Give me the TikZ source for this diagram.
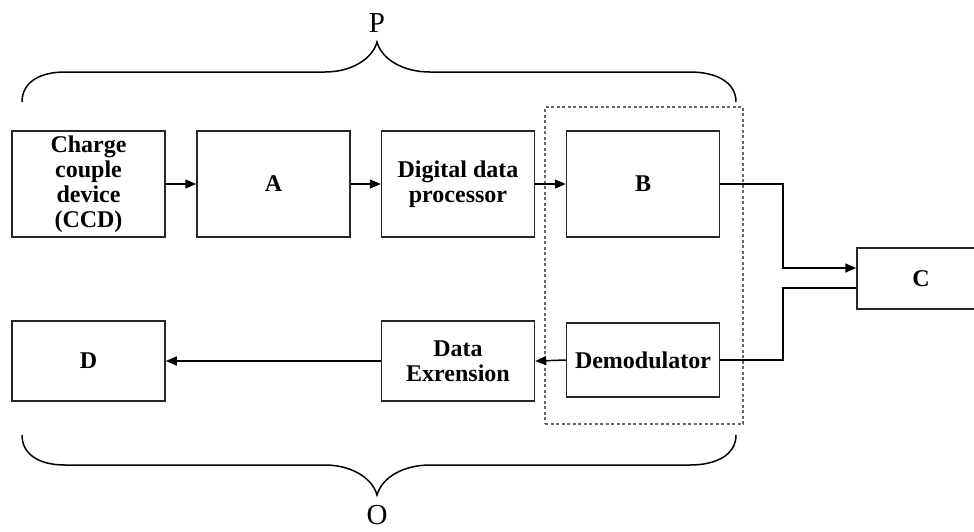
\documentclass[tikz,border=0pt]{standalone}
\usepackage{fontspec}
\setmainfont{Liberation Serif}
\usetikzlibrary{arrows.meta}
\begin{document}
\begin{tikzpicture}[x=1pt,y=-1pt,
  blk/.style={draw=black!85, line width=1.5pt, rectangle, minimum width=153pt, align=center,
    font=\bfseries\fontsize{24}{25}\selectfont, inner sep=0pt},
  tall/.style={blk, minimum height=106pt},
  low/.style={blk, minimum height=80pt},
  conn/.style={draw=black, line width=1.5pt},
  arr/.style={conn, -{Triangle[length=11pt,width=9pt]}},
  grpbox/.style={draw=black!60, line width=1.5pt, dash pattern=on 3pt off 2.5pt, rectangle, inner sep=0pt},
  brace/.style={draw=black, line width=1.5pt},
  lbl/.style={font=\fontsize{29}{30}\selectfont, inner sep=0pt}]
\useasboundingbox (0,0) rectangle (974,531);
\clip (0,0) rectangle (974,531);
% group box
\node[grpbox, minimum width=198pt, minimum height=317pt] (grp) at (644,265.5) {};
% blocks
\node[tall] (ccd) at (88.5,184) {Charge\\couple\\device\\(CCD)};
\node[tall] (a) at (273.5,184) {A};
\node[tall] (ddp) at (458,184) {Digital data\\processor};
\node[tall] (b) at (643,184) {B};
\node[low] (d) at (88.5,361) {D};
\node[low] (dex) at (458,361) {Data\\Exrension};
\node[blk, minimum height=74pt] (demod) at (643,360) {Demodulator};
\node[blk, minimum width=128pt, minimum height=61pt] (c) at (921,278.5) {C};
% connectors
\draw[arr] (ccd.east) -- (a.west);
\draw[arr] (a.east) -- (ddp.west);
\draw[arr] (ddp.east) -- (b.west);
\draw[arr] (b.east) -- (783,184) -- (783,268) -- ([yshift=10.5pt]c.west);
\draw[conn] ([yshift=-9.5pt]c.west) -- (783,288) -- (783,360) -- (demod.east);
\draw[arr] (demod.west) -- (dex.east);
\draw[arr] (dex.west) -- (d.east);
% braces
\draw[brace] (22,102) .. controls (22,82) and (40,72) .. (65,72) -- (325,72)
  .. controls (350,72) and (372,60) .. (377,42)
  .. controls (382,60) and (404,72) .. (430,72) -- (690,72)
  .. controls (716,72) and (736,82) .. (736,102);
\draw[brace] (22,435) .. controls (22,455) and (40,465) .. (65,465) -- (325,465)
  .. controls (350,465) and (372,477) .. (377,495)
  .. controls (382,477) and (404,465) .. (430,465) -- (690,465)
  .. controls (716,465) and (736,455) .. (736,435);
\node[lbl] (p) at (377,23) {P};
\node[lbl] (o) at (377,515) {O};
\end{tikzpicture}
\end{document}
